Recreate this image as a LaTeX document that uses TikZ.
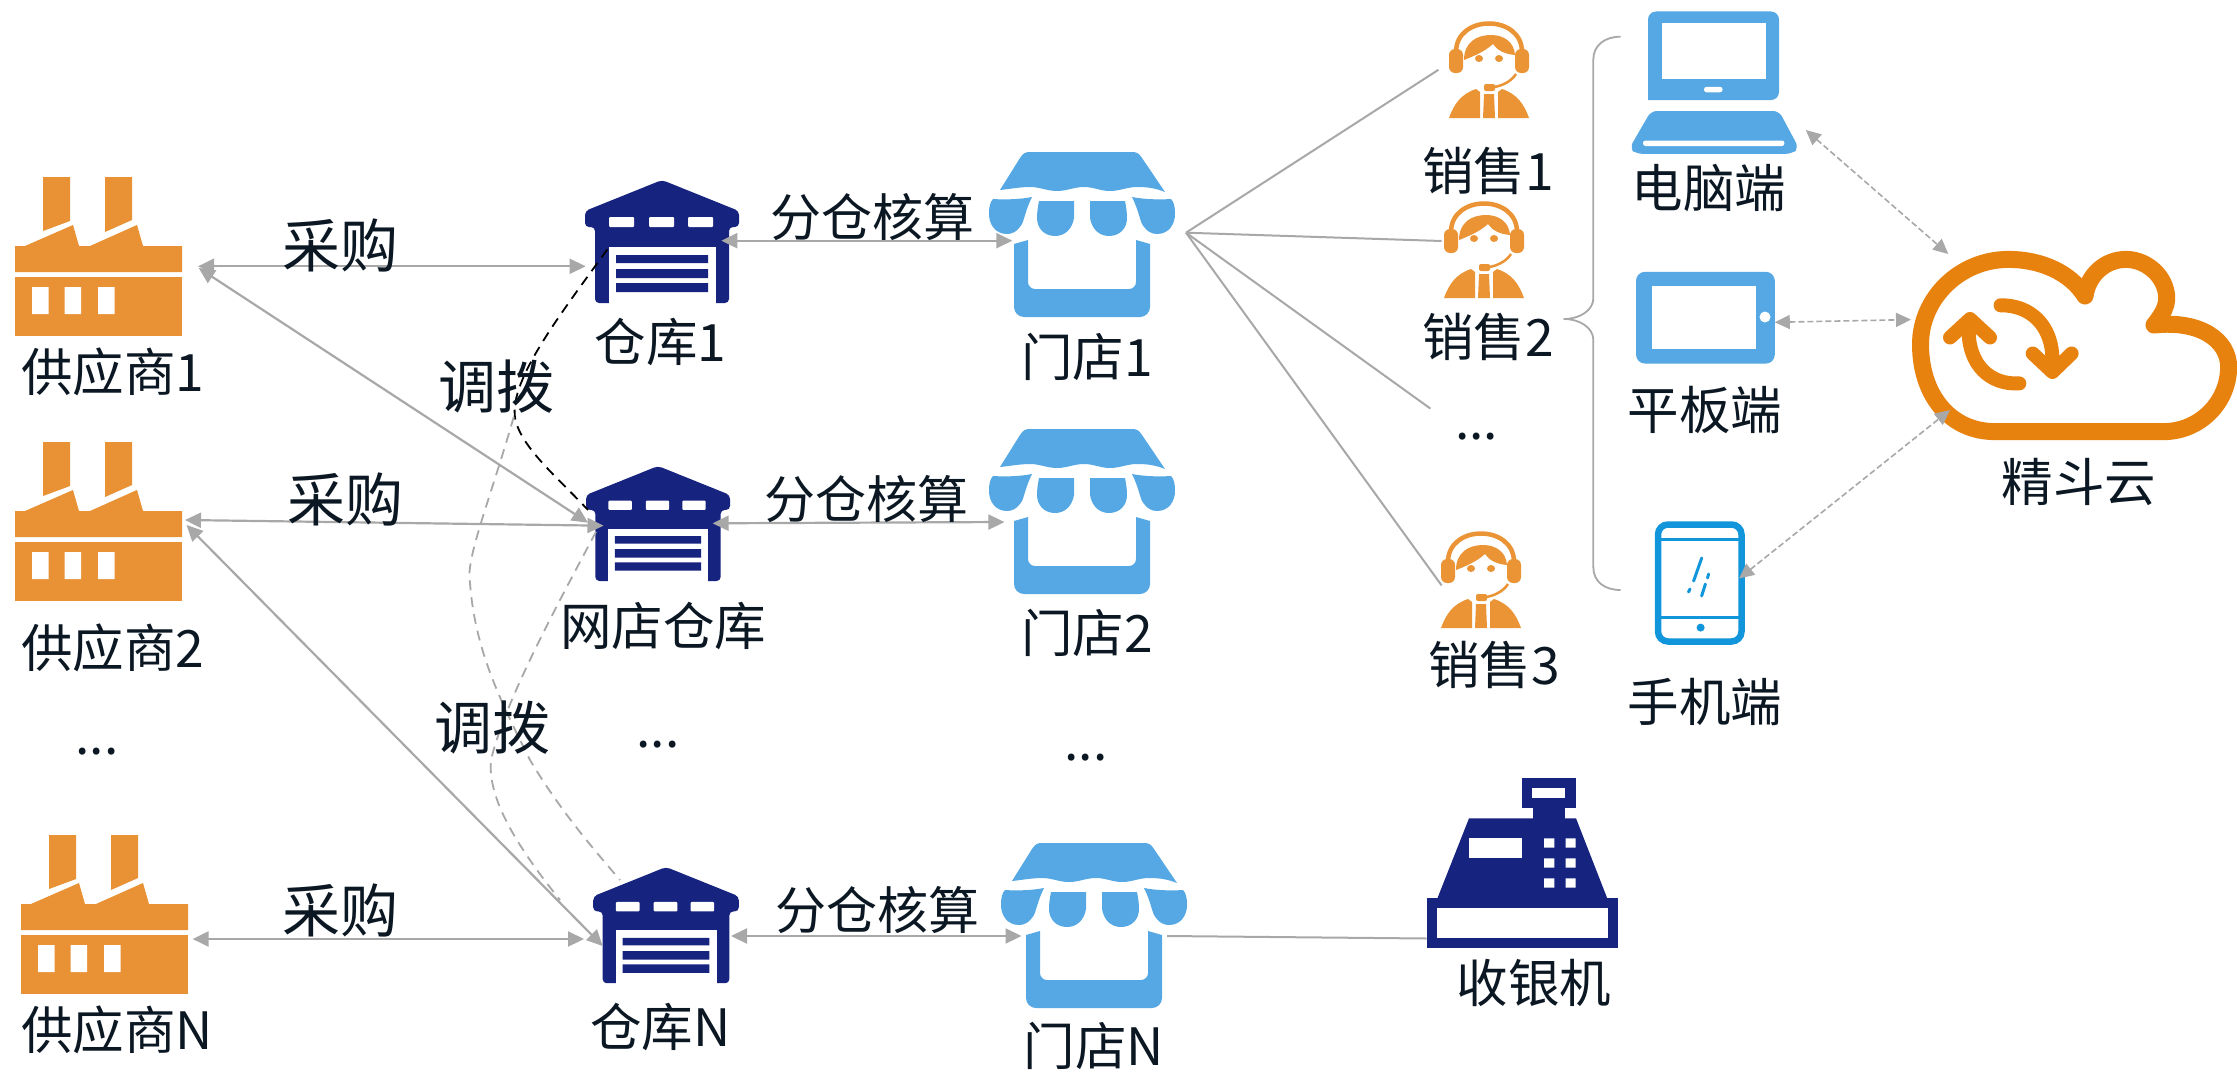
\documentclass[tikz,border=0pt]{standalone}
\usepackage{fontspec}
\setmainfont{Noto Sans CJK SC}
\usetikzlibrary{arrows.meta}
\definecolor{txtc}{HTML}{0B1722}
\definecolor{facc}{HTML}{E89135}
\definecolor{navyc}{HTML}{17247F}
\definecolor{bluec}{HTML}{55A8E3}
\definecolor{perc}{HTML}{EA9436}
\definecolor{cloudc}{HTML}{E8820E}
\definecolor{phonec}{HTML}{1296DB}
\definecolor{linec}{HTML}{A8A8A8}
\newcommand\StoreHalf{%
    \fill[bluec] (-89,47) .. controls (-75,48) and (-60,47) .. (-50,45) .. controls (-56,57) and (-58,68) .. (-60,72) .. controls (-65,80) and (-70,82) .. (-75,82) .. controls (-87,82) and (-93,72) .. (-93,62) .. controls (-93,55) and (-92,50) .. (-89,47) -- cycle;
    \fill[bluec] (-43,49) -- (-8,49) -- (-8,66) .. controls (-10,78) and (-18,84) .. (-27,84) .. controls (-38,84) and (-45,76) .. (-45,66) .. controls (-45,60) and (-44,54) .. (-43,49) -- cycle;
}
\newcommand\PersonHalf{%
    \fill[perc,rounded corners=6pt] (26,27) rectangle (40,51);
    \fill[perc] (13,67) .. controls (28,72) and (35,82) .. (40,96) -- (9,96) -- (9,70) -- cycle;
    \fill[perc] (10,36.5) ellipse [x radius=4pt,y radius=3.5pt];
}
\tikzset{
  lbl/.style={inner sep=0pt,text=txtc,font=\fontsize{51.5}{60}\selectfont},
  biglbl/.style={inner sep=0pt,text=txtc,font=\fontsize{58}{68}\selectfont},
  midlbl/.style={inner sep=0pt,text=txtc,font=\fontsize{51}{60}\selectfont},
  biarrow/.style={draw=linec,line width=2.2pt,{Triangle[length=16pt,width=15pt]}-{Triangle[length=16pt,width=15pt]}},
  thinline/.style={draw=linec,line width=2pt},
  dasharrow/.style={draw=linec,line width=1.6pt,dash pattern=on 6pt off 3pt,{Triangle[length=15pt,width=14pt]}-{Triangle[length=15pt,width=14pt]}},
  transfer/.style={line width=1.8pt,dash pattern=on 10pt off 7pt},
  factoryicon/.pic={
    \fill[facc] (28,0)--(55,0)--(55,44)--(28,54)--cycle;
    \fill[facc] (90,0)--(117,0)--(117,43)--(90,55)--cycle;
    \fill[facc] (0,69)--(10,69)--(58,48)--(64,69)--(75,69)--(122,48)--(128,69)--(167,69)--(167,95)--(0,95)--cycle;
    \fill[facc] (0,100) rectangle (167,159);
    \fill[white] (17,110) rectangle (33.5,137) (49.5,110) rectangle (66,137) (83,110) rectangle (99.5,137);
  },
  warehouseicon/.pic={
    \fill[navyc,rounded corners=4pt] (0,0)--(77,31)--(77,47)--(67,47)--(67,123)--(-67,123)--(-67,47)--(-77,47)--(-77,31)--cycle;
    \fill[white] (-53,67) rectangle (54,124);
    \fill[navyc] (-46,75) rectangle (46,83) (-46,89) rectangle (46,98) (-46,103) rectangle (46,112);
    \fill[white,rounded corners=1pt] (-53,37) rectangle (-28,47) (-13,37) rectangle (12,47) (26,37) rectangle (51,47);
  },
  storeicon/.pic={
    \fill[bluec] (83,40) .. controls (73,36) and (65,35) .. (55,35) .. controls (45,35) and (38,39) .. (28,39) .. controls (18,39) and (12,35) .. (2,35) .. controls (-8,35) and (-15,39) .. (-25,39) .. controls (-35,39) and (-42,35) .. (-52,35) .. controls (-62,35) and (-72,37) .. (-82,38) -- (-62,6) .. controls (-59,1) and (-56,0) .. (-52,0) -- (50,0) .. controls (54,0) and (57,1) .. (60,6) -- cycle;
    \StoreHalf
    \begin{scope}[xscale=-1]\StoreHalf\end{scope}
    \fill[bluec] (-68,92) -- (-54,88) [rounded corners=7pt] -- (-54,137) -- (54,137) [sharp corners] -- (54,88) -- (68,92) [rounded corners=10pt] -- (68,165) -- (-68,165) [sharp corners] -- cycle;
  },
  personicon/.pic={
    \draw[perc,line width=4.5pt] (-33,30) .. controls (-33,-8) and (33,-8) .. (33,30);
    \PersonHalf
    \begin{scope}[xscale=-1]\PersonHalf\end{scope}
    \fill[perc] (-25,38) .. controls (-25,20) and (-12,13) .. (2,13) .. controls (15,13) and (25,20) .. (26,33) .. controls (15,32) and (8,28) .. (4,22) .. controls (-5,30) and (-15,34) .. (-25,38) -- cycle;
    \draw[perc,line width=2.5pt] (27,52) .. controls (22,60) and (12,64) .. (5,65);
    \fill[perc,rounded corners=2pt] (-5,62) rectangle (6,69);
    \fill[perc] (-5,72) -- (5,72) -- (6,96) -- (-6,96) -- cycle;
  },
}
\begin{document}
\begin{tikzpicture}[x=1pt,y=-1pt]
\useasboundingbox (0,0) rectangle (2237,1073);
\fill[white] (0,0) rectangle (2237,1073);

% factories
\pic at (15,177) {factoryicon};
\pic at (15,442) {factoryicon};
\pic at (21,835) {factoryicon};
% warehouses
\pic at (662,180) {warehouseicon};
\pic[scale=.935] at (658,466) {warehouseicon};
\pic[scale=.945] at (666,867) {warehouseicon};
% stores
\pic at (1082,152) {storeicon};
\pic at (1082,429) {storeicon};
\pic at (1094,843) {storeicon};
% people
\pic at (1489,22) {personicon};
\pic at (1484,202) {personicon};
\pic at (1481,532) {personicon};

% laptop
\fill[bluec,rounded corners=8pt] (1648,100) -- (1648,11.5) -- (1779,11.5) -- (1779,100) [sharp corners] -- cycle;
\fill[white] (1661.6,23) rectangle (1766,79);
\fill[white,rounded corners=2.5pt] (1704,86.8) rectangle (1722.5,92.3);
\fill[bluec,rounded corners=6pt] (1651,111) -- (1779,111) -- (1798.8,148) -- (1792,153.8) -- (1636,153.8) -- (1629.6,148) -- cycle;
\fill[white,rounded corners=2.5pt] (1643,140.5) rectangle (1784.4,146);
% tablet
\fill[bluec,rounded corners=9pt] (1636,271.8) rectangle (1774.8,363.6);
\fill[white] (1652,285.6) rectangle (1755.6,349);
\fill[white] (1765,317) circle [radius=5.5pt];
% phone
\draw[phonec,line width=6.5pt,rounded corners=10pt] (1658,524.5) rectangle (1741.5,641.5);
\draw[phonec,line width=2.5pt] (1658,539.5) -- (1741.5,539.5) (1658,617.5) -- (1741.5,617.5);
\fill[phonec] (1700.6,627.6) circle [radius=4pt];
\draw[phonec,line width=3pt,line cap=round] (1701.7,558) -- (1693.6,581) (1690,589) -- (1688.5,592) (1708.6,574) -- (1707.5,578) (1705.4,584) -- (1701.6,596);
% cloud
\draw[cloudc,line width=17pt,line cap=round,line join=round]
  (2085,296) .. controls (2070,272) and (2040,259.4) .. (2008.6,259.4)
  .. controls (1960,259.4) and (1920.5,298) .. (1920.5,344.4)
  .. controls (1920.5,395) and (1950,431.6) .. (1995,431.6)
  -- (2163.5,431.6)
  .. controls (2200,431.6) and (2228.6,402) .. (2228.6,367)
  .. controls (2228.6,340) and (2200,320) .. (2154,325)
  .. controls (2166,310) and (2170,300) .. (2164,285)
  .. controls (2158,270) and (2142,259.4) .. (2126,259.4)
  .. controls (2105,259.4) and (2088,275) .. (2085,296);
\draw[cloudc,line width=14pt,line cap=round,line join=round]
  (2019.3,383.4) .. controls (1990,385) and (1968.6,365) .. (1968.6,330);
\draw[cloudc,line width=14pt,line cap=round,line join=round]
  (1950,337.5) -- (1970,319) -- (1990,337.5);
\draw[cloudc,line width=14pt,line cap=round,line join=round]
  (2000.6,305.3) .. controls (2030,305) and (2052.4,325) .. (2052.4,360);
\draw[cloudc,line width=14pt,line cap=round,line join=round]
  (2032.7,353.5) -- (2052.4,372) -- (2071.6,353.5);
% cash register
\fill[navyc] (1522.3,778.3) rectangle (1575.7,807.7);
\fill[navyc] (1533.3,807) rectangle (1565,819);
\fill[navyc] (1469,818.3) -- (1576,818.3) -- (1607.3,898.5) -- (1437.3,898.5) -- cycle;
\fill[navyc] (1426.7,898.3) rectangle (1618.3,947.7);
\fill[white] (1532.3,788.3) rectangle (1565,797.7);
\fill[white] (1437.3,907.7) rectangle (1607.7,938.3);
\fill[white] (1469,837.7) rectangle (1522.3,857.7);
\fill[white] (1544,838.3) rectangle (1554.3,847.7) (1565.7,838.3) rectangle (1575.7,847.7)
             (1544,858.3) rectangle (1554.3,867.7) (1565.7,858.3) rectangle (1575.7,867.7)
             (1544,878.3) rectangle (1554.3,887.7) (1565.7,878.3) rectangle (1575.7,887.7);

% connector end points
\coordinate (f1a) at (198,266.3);
\coordinate (f1b) at (198.7,268);
\coordinate (f2a) at (185,520);
\coordinate (f2b) at (186.6,525);
\coordinate (fNa) at (192.6,939);
\coordinate (w1a) at (585.6,266.3);
\coordinate (w2a) at (588,522.7);
\coordinate (w2b) at (603.5,525.7);
\coordinate (wNa) at (602.7,946);
\coordinate (wNb) at (584,939);
\coordinate (w1r) at (721.3,240.7);
\coordinate (w2r) at (712.6,523.3);
\coordinate (wNr) at (731,936);
\coordinate (s1l) at (1012.3,240.7);
\coordinate (s2l) at (1004.4,522);
\coordinate (sNl) at (1021.5,936);
\coordinate (s1r) at (1186,232.7);
\coordinate (sNr) at (1167,936);
\coordinate (p1l) at (1438.4,69.8);
\coordinate (p2l) at (1441.6,241);
\coordinate (pxl) at (1430.4,408.6);
\coordinate (p3l) at (1441.6,585.4);
\coordinate (regl) at (1426.7,938.5);
\coordinate (lapr) at (1805.8,130);
\coordinate (tabr) at (1774.8,322.3);
\coordinate (phor) at (1739,578.5);
\coordinate (cl1) at (1948.3,254);
\coordinate (cl2) at (1911,319.6);
\coordinate (cl3) at (1950,410);
\coordinate (tw1) at (607.4,249.3);
\coordinate (tw2) at (588,510);
\coordinate (tg1) at (513.8,416.7);
\coordinate (tg2) at (620,880);
\coordinate (tg3) at (596,531.7);
\coordinate (tg4) at (560,900);
\coordinate (brt) at (1620.5,36.7);
\coordinate (brm) at (1564,319);
\coordinate (brb) at (1620.5,590);

% connectors
\draw[biarrow] (f1a) -- (w1a);
\draw[biarrow] (f1b) -- (w2a);
\draw[biarrow] (f2a) -- (w2b);
\draw[biarrow] (f2b) -- (wNa);
\draw[biarrow] (fNa) -- (wNb);
\draw[biarrow] (w1r) -- (s1l);
\draw[biarrow] (w2r) -- (s2l);
\draw[biarrow] (wNr) -- (sNl);
\draw[thinline] (s1r) -- (p1l);
\draw[thinline] (s1r) -- (p2l);
\draw[thinline] (s1r) -- (pxl);
\draw[thinline] (s1r) -- (p3l);
\draw[thinline] (sNr) -- (regl);
\draw[dasharrow] (lapr) -- (cl1);
\draw[dasharrow] (tabr) -- (cl2);
\draw[dasharrow] (phor) -- (cl3);
\draw[draw=black,transfer] (tw1) .. controls (560,315) and (505,385) .. (516,422) .. controls (524,450) and (560,480) .. (tw2);
\draw[draw=linec,transfer] (tg1) .. controls (490,500) and (465,560) .. (470,583) .. controls (475,650) and (500,700) .. (530,760) .. controls (560,810) and (590,845) .. (tg2);
\draw[draw=linec,transfer] (tg3) .. controls (560,600) and (505,700) .. (491,760) .. controls (487,800) and (520,850) .. (tg4);
\draw[draw=linec,line width=1.8pt,line join=round] (brt) .. controls (1605,36.7) and (1593.3,45) .. (1593.3,59.7) -- (1593.3,298.4) .. controls (1593.3,310) and (1580,319) .. (brm) .. controls (1580,319) and (1593.3,328) .. (1593.3,339.8) -- (1593.3,567) .. controls (1593.3,582) and (1605,590) .. (brb);

% labels
\node[biglbl] (t1) at (340,245) {采购};
\node[biglbl] (t2) at (345,499) {采购};
\node[biglbl] (t3) at (340,910) {采购};
\node[lbl] (t4) at (113,372) {供应商1};
\node[lbl] (t5) at (113,648) {供应商2};
\node[lbl] (t6) at (97,752) {...};
\node[lbl] (t7) at (117,1030) {供应商N};
\node[lbl] (t8) at (660.6,342) {仓库1};
\node[biglbl] (t9) at (496.5,387) {调拨};
\node[lbl] (t10) at (663,626) {网店仓库};
\node[biglbl] (t11) at (492,728) {调拨};
\node[lbl] (t12) at (658,745) {...};
\node[lbl] (t13) at (660.6,1027) {仓库N};
\node[midlbl] (t14) at (872,217) {分仓核算};
\node[midlbl] (t15) at (866,499) {分仓核算};
\node[midlbl] (t16) at (877,910) {分仓核算};
\node[lbl] (t17) at (1087,357) {门店1};
\node[lbl] (t18) at (1087,633) {门店2};
\node[lbl] (t19) at (1086,758) {...};
\node[lbl] (t20) at (1094,1046) {门店N};
\node[lbl] (t21) at (1488,171) {销售1};
\node[lbl] (t22) at (1488,337) {销售2};
\node[lbl] (t23) at (1476.6,437) {...};
\node[lbl] (t24) at (1494,665) {销售3};
\node[lbl] (t25) at (1709,188) {电脑端};
\node[lbl] (t26) at (1705,409.5) {平板端};
\node[lbl] (t27) at (1705,702) {手机端};
\node[lbl] (t28) at (2079,482) {精斗云};
\node[lbl] (t29) at (1534,983) {收银机};
\end{tikzpicture}
\end{document}
